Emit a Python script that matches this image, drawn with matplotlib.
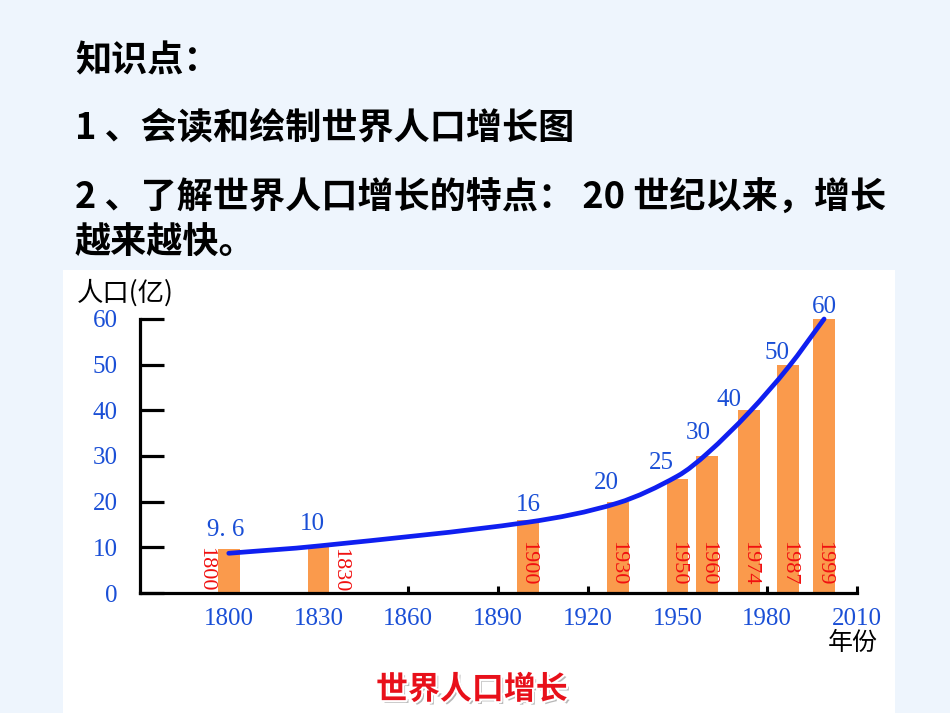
import numpy as np
import matplotlib
matplotlib.use("Agg")
import matplotlib.pyplot as plt
import matplotlib.patheffects as pe
from matplotlib.patches import Rectangle, PathPatch
from matplotlib.path import Path

####################################################################
# data

years = [1800, 1830, 1900, 1930, 1950, 1960, 1974, 1987, 1999]
population = [9.6, 10, 16, 20, 25, 30, 40, 50, 60]          # bars (100 million)
value_labels = ["9. 6", "10", "16", "20", "25", "30", "40", "50", "60"]
trend = [8.7, 10.3, 15.5, 19.7, 25.6, 30.6, 39.6, 49.4, 60]  # blue curve as drawn
x_ticks = [1800, 1830, 1860, 1890, 1920, 1950, 1980, 2010]
y_ticks = [0, 10, 20, 30, 40, 50, 60]

notes = [
    "知识点：",
    "1 、会读和绘制世界人口增长图",
    "2 、了解世界人口增长的特点： 20 世纪以来，增长",
    "越来越快。",
]

####################################################################

CJK = ["Noto Sans CJK SC", "DejaVu Sans"]
NUM = ["Liberation Serif", "DejaVu Serif"]
BLUE_TXT = "#1a4fd6"
ORANGE = "#fa9a4c"
RED = "#f01010"

W, H = 950, 713
fig = plt.figure(figsize=(W / 100, H / 100), dpi=100)
fig.patch.set_facecolor("#eef5fd")

# white panel behind the chart
fig.patches.append(Rectangle((63 / W, 0), (895 - 63) / W, (H - 270) / H,
                             transform=fig.transFigure, facecolor="white",
                             edgecolor="none", zorder=-5))

# header notes
note_y = [61, 128, 197, 243]
for txt, py in zip(notes, note_y):
    fig.text(75 / W, 1 - py / H, txt, family=CJK, fontsize=26, fontweight="bold",
             color="black", ha="left", va="center")

ax = fig.add_axes([140 / W, 1 - 593 / H, (857 - 140) / W, (593 - 319) / H])
ax.set_zorder(2)
ax.patch.set_alpha(0)
ax.set_xlim(1770.33, 2010)
ax.set_ylim(0, 60)

ax.bar(years, population, width=7.3, color=ORANGE, zorder=2)


def smooth_path(xs, ys):  # cubic Bezier through the points, slopes from neighbours
    xs = np.asarray(xs, float)
    ys = np.asarray(ys, float)
    n = len(xs)
    m = np.zeros(n)
    m[0] = (ys[1] - ys[0]) / (xs[1] - xs[0])
    m[-1] = (ys[-1] - ys[-2]) / (xs[-1] - xs[-2])
    for i in range(1, n - 1):
        m[i] = (ys[i + 1] - ys[i - 1]) / (xs[i + 1] - xs[i - 1])
    verts = [(xs[0], ys[0])]
    codes = [Path.MOVETO]
    for i in range(n - 1):
        d = (xs[i + 1] - xs[i]) / 3
        verts += [(xs[i] + d, ys[i] + m[i] * d),
                  (xs[i + 1] - d, ys[i + 1] - m[i + 1] * d),
                  (xs[i + 1], ys[i + 1])]
        codes += [Path.CURVE4] * 3
    return Path(verts, codes)


ax.add_patch(PathPatch(smooth_path(years, trend), facecolor="none",
                       edgecolor="#0f1ff0", lw=3.4, capstyle="round",
                       zorder=3, clip_on=False))

# value labels above the curve (offsets in data units)
label_off = [(-1, 4.2), (-2, 5.1), (0, 3.3), (-3.7, 4.1), (-5.3, 3.4),
             (-3, 5.0), (-6.7, 2.2), (-3.7, 2.5), (0, 2.6)]
for yr, val, lab, (dx, dy) in zip(years, population, value_labels, label_off):
    ax.text(yr + dx, val + dy, lab, family=NUM, fontsize=18, color=BLUE_TXT,
            ha="center", va="center", clip_on=False, zorder=4)

# vertical year labels on the bars
for i, yr in enumerate(years):
    if i == 0:
        xp, yp = yr - 7.7, 5.3
    elif i == 1:
        xp, yp = yr + 7.0, 5.0
    else:
        xp, yp = yr, 6.6
    ax.text(xp, yp, str(yr), family=NUM, fontsize=16, color=RED, rotation=270,
            ha="center", va="center", zorder=4)

# axes styling
for s in ["top", "right"]:
    ax.spines[s].set_visible(False)
for s in ["left", "bottom"]:
    ax.spines[s].set_linewidth(2.3)
    ax.spines[s].set_zorder(5)

ax.set_xticks(x_ticks)
ax.set_xticklabels([str(t) for t in x_ticks], family=NUM, fontsize=18, color=BLUE_TXT)
ax.set_yticks(y_ticks)
ax.set_yticklabels([str(t) for t in y_ticks], family=NUM, fontsize=18, color=BLUE_TXT)
ax.tick_params(axis="y", direction="in", length=17, width=2.3, pad=16, colors="black",
               labelcolor=BLUE_TXT)
ax.tick_params(axis="x", direction="in", length=5, width=2.2, pad=11, colors="black",
               labelcolor=BLUE_TXT)
for t in ax.xaxis.get_major_ticks()[:2]:  # no marks under the first two bars
    t.tick1line.set_visible(False)

fig.text(77 / W, 1 - 293 / H, "人口(亿)", family=CJK, fontsize=19, color="black",
         ha="left", va="center")
fig.text(853 / W, 1 - 643 / H, "年份", family=CJK, fontsize=18, color="black",
         ha="center", va="center")

fig.text(472 / W, 1 - 690 / H, "世界人口增长", family=CJK, fontsize=23,
         fontweight="bold", color="#e8101a", ha="center", va="center",
         path_effects=[pe.withSimplePatchShadow(offset=(2, -2), shadow_rgbFace="#888888",
                                                alpha=0.6),
                       pe.Stroke(linewidth=3, foreground="white"), pe.Normal()])

fig.savefig("out.png", dpi=100, facecolor=fig.get_facecolor())
